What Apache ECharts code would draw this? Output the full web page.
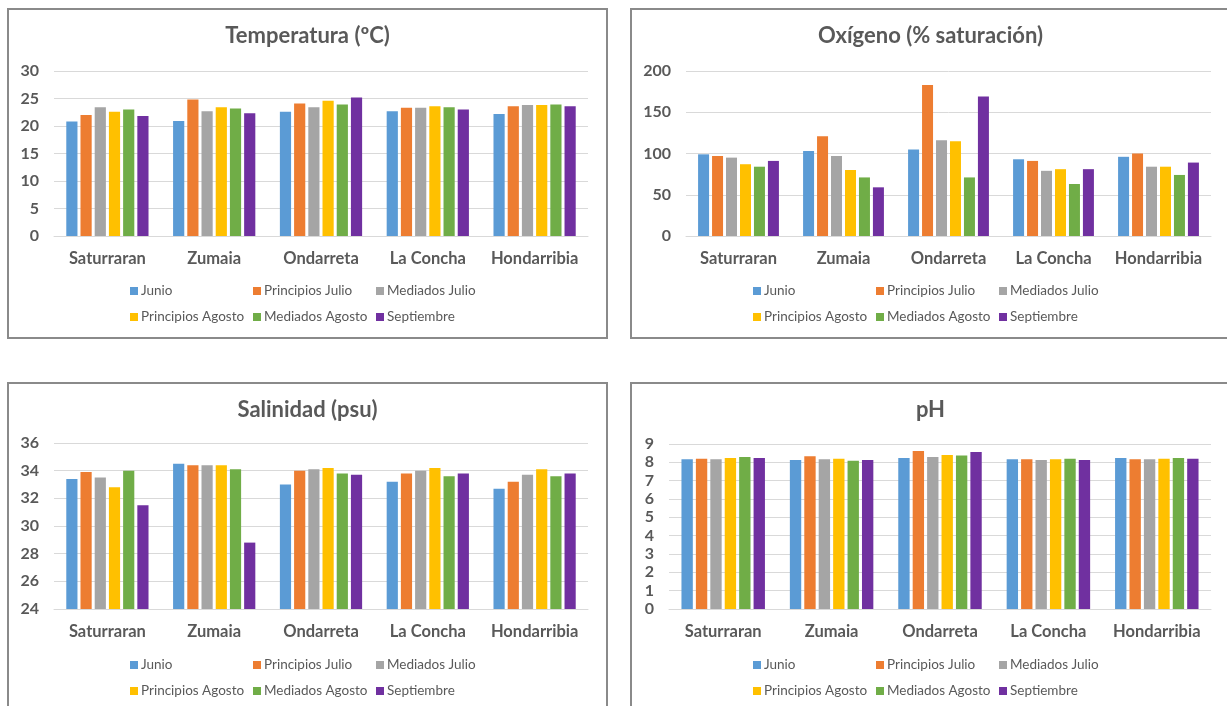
<!DOCTYPE html>
<html>
<head>
<meta charset="utf-8">
<script src="https://cdn.jsdelivr.net/npm/echarts@6/dist/echarts.min.js"></script>
<style>
  html, body { margin: 0; padding: 0; background: #ffffff; width: 1227px; height: 706px; overflow: hidden; }
  .chart { position: absolute; width: 601px; height: 331px; }
  .frame { position: absolute; width: 601px; height: 331px; box-sizing: border-box; border: 2px solid #8a8a8a; pointer-events: none; }
</style>
</head>
<body>
<div class="chart" id="c1" style="left:7px;top:8px"></div>
<div class="frame" style="left:7px;top:8px"></div>
<div class="chart" id="c2" style="left:630px;top:8px"></div>
<div class="frame" style="left:630px;top:8px"></div>
<div class="chart" id="c3" style="left:7px;top:382px"></div>
<div class="frame" style="left:7px;top:382px"></div>
<div class="chart" id="c4" style="left:630px;top:382px"></div>
<div class="frame" style="left:630px;top:382px"></div>
<script>
// ---- data ----
const categories = ['Saturraran', 'Zumaia', 'Ondarreta', 'La Concha', 'Hondarribia'];
const seriesNames = ['Junio', 'Principios Julio', 'Mediados Julio', 'Principios Agosto', 'Mediados Agosto', 'Septiembre'];

const titles = ['Temperatura (ºC)', 'Oxígeno (% saturación)', 'Salinidad (psu)', 'pH'];

// Temperatura (ºC)
const tempJunio = [20.8, 20.9, 22.6, 22.7, 22.2];
const tempPrJulio = [22.0, 24.8, 24.1, 23.3, 23.6];
const tempMedJulio = [23.4, 22.7, 23.4, 23.3, 23.8];
const tempPrAgosto = [22.6, 23.4, 24.6, 23.6, 23.8];
const tempMedAgosto = [23.0, 23.2, 23.9, 23.4, 23.9];
const tempSept = [21.8, 22.3, 25.2, 23.0, 23.6];

// Oxígeno (% saturación)
const oxJunio = [99, 103, 105, 93, 96];
const oxPrJulio = [97, 121, 183, 91, 100];
const oxMedJulio = [95, 97, 116, 79, 84];
const oxPrAgosto = [87, 80, 115, 81, 84];
const oxMedAgosto = [84, 71, 71, 63, 74];
const oxSept = [91, 59, 169, 81, 89];

// Salinidad (psu)
const salJunio = [33.4, 34.5, 33.0, 33.2, 32.7];
const salPrJulio = [33.9, 34.4, 34.0, 33.8, 33.2];
const salMedJulio = [33.5, 34.4, 34.1, 34.0, 33.7];
const salPrAgosto = [32.8, 34.4, 34.2, 34.2, 34.1];
const salMedAgosto = [34.0, 34.1, 33.8, 33.6, 33.6];
const salSept = [31.5, 28.8, 33.7, 33.8, 33.8];

// pH
const phJunio = [8.17, 8.13, 8.24, 8.17, 8.24];
const phPrJulio = [8.20, 8.33, 8.62, 8.17, 8.17];
const phMedJulio = [8.17, 8.17, 8.29, 8.13, 8.17];
const phPrAgosto = [8.24, 8.20, 8.40, 8.17, 8.20];
const phMedAgosto = [8.29, 8.09, 8.37, 8.20, 8.24];
const phSept = [8.24, 8.13, 8.57, 8.13, 8.20];

// y axis ticks: [min, max, interval]
const tempAxis = [0, 30, 5];
const oxAxis = [0, 200, 50];
const salAxis = [24, 36, 2];
const phAxis = [0, 9, 1];

// ---- styles ----
const palette = ['#5B9BD5', '#ED7D31', '#A5A5A5', '#FFC000', '#70AD47', '#7030A0'];
const FONT = 'Lato, Carlito, "Open Sans", sans-serif';
const TXT = '#595959';

function build(id, title, axis, values, grid) {
  const chart = echarts.init(document.getElementById(id), null, { renderer: 'canvas' });
  const legendBase = {
    left: 123, padding: 0, itemWidth: 8, itemHeight: 8, itemGap: 0, icon: 'rect',
    textStyle: { fontFamily: FONT, fontSize: 13.5, color: TXT, width: 112, lineHeight: 16, overflow: 'truncate', padding: [0, 0, 0, -2] },
    selectedMode: false
  };
  chart.setOption({
    animation: false,
    color: palette,
    title: {
      text: title, left: 'center', top: 17, padding: 0,
      textStyle: { fontFamily: FONT, fontSize: 22, fontWeight: 'bold', color: TXT }
    },
    legend: [
      Object.assign({}, legendBase, { top: 275, data: seriesNames.slice(0, 3) }),
      Object.assign({}, legendBase, { top: 301, data: seriesNames.slice(3) })
    ],
    grid: Object.assign({ containLabel: false }, grid),
    xAxis: {
      type: 'category', data: categories,
      axisLine: { lineStyle: { color: '#D9D9D9', width: 1 } },
      axisTick: { show: false },
      axisLabel: { fontFamily: FONT, fontSize: 16.5, fontWeight: 'bold', color: TXT, margin: 14, interval: 0 }
    },
    yAxis: {
      type: 'value', min: axis[0], max: axis[1], interval: axis[2],
      axisLine: { show: false }, axisTick: { show: false },
      splitLine: { lineStyle: { color: '#D9D9D9', width: 1 } },
      axisLabel: { fontFamily: FONT, fontSize: 16, fontWeight: 'bold', color: TXT, margin: 15 }
    },
    series: seriesNames.map((n, i) => ({
      name: n, type: 'bar', data: values[i],
      barGap: '27%', barCategoryGap: '23%'
    }))
  });
}

build('c1', titles[0], tempAxis,
  [tempJunio, tempPrJulio, tempMedJulio, tempPrAgosto, tempMedAgosto, tempSept],
  { left: 47, top: 63, width: 534, height: 165 });
build('c2', titles[1], oxAxis,
  [oxJunio, oxPrJulio, oxMedJulio, oxPrAgosto, oxMedAgosto, oxSept],
  { left: 56, top: 63, width: 525, height: 165 });
build('c3', titles[2], salAxis,
  [salJunio, salPrJulio, salMedJulio, salPrAgosto, salMedAgosto, salSept],
  { left: 47, top: 61, width: 534, height: 166 });
build('c4', titles[3], phAxis,
  [phJunio, phPrJulio, phMedJulio, phPrAgosto, phMedAgosto, phSept],
  { left: 39, top: 62, width: 542, height: 165 });
</script>
</body>
</html>
